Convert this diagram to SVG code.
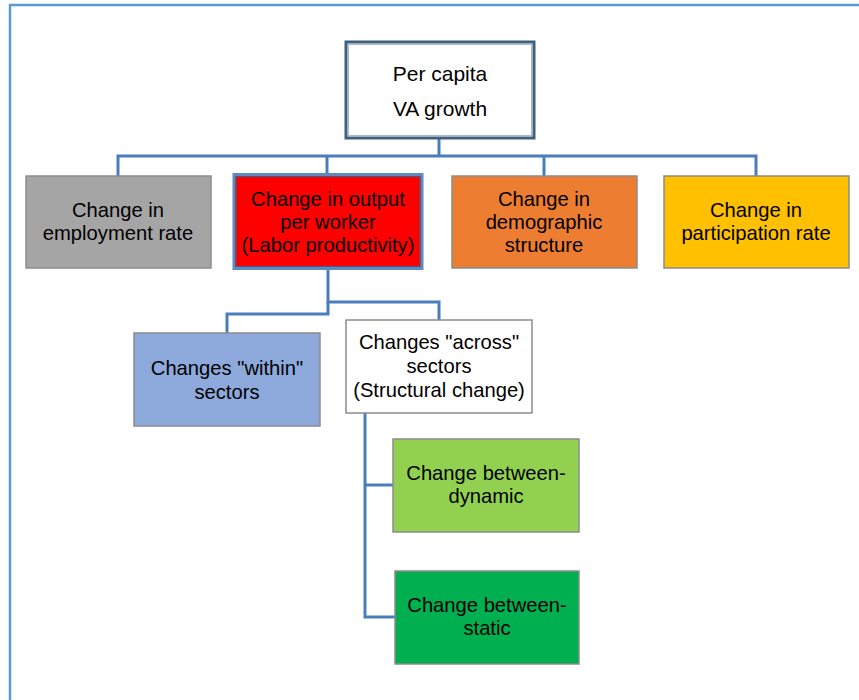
<svg xmlns="http://www.w3.org/2000/svg" width="859" height="700" viewBox="0 0 859 700">
<style>
  .t { font-family: "Liberation Sans", Arial, sans-serif; font-size: 20.2px; fill: #000; text-anchor: middle; dominant-baseline: central; }
  .big { font-size: 21px; }
  .box { stroke: #8c8c8c; stroke-width: 1.5; }
  .conn { fill: none; stroke: #4A7EBB; stroke-width: 3; }
</style>
<rect x="0" y="0" width="859" height="700" fill="#ffffff"/>
<path d="M10,700 V5 H859" fill="none" stroke="#5B9BD5" stroke-width="2.5"/>

<g id="connectors">
  <path class="conn" d="M439,138 V156"/>
  <path class="conn" d="M118,176 V156 H756 V176"/>
  <path class="conn" d="M327,156 V174"/>
  <path class="conn" d="M544,156 V176"/>
  <path class="conn" d="M328,269 V302 H439 V320"/>
  <path class="conn" d="M328,302 V314 H227 V333"/>
  <path class="conn" d="M365,413 V617 H395"/>
  <path class="conn" d="M365,485 H393"/>
</g>

<g id="node-top">
  <rect x="346" y="42" width="188" height="96" fill="#ffffff" stroke="#41607F" stroke-width="3"/>
  <rect x="348.5" y="44.5" width="183" height="91" fill="none" stroke="#A9B7C6" stroke-width="1"/>
  <text class="t big" x="440" y="73">Per capita</text>
  <text class="t big" x="440" y="108">VA growth</text>
</g>

<g id="node-employment">
  <rect class="box" x="26" y="176" width="185" height="92" fill="#A5A5A5"/>
  <text class="t" x="118" y="210">Change in</text>
  <text class="t" x="118" y="233">employment rate</text>
</g>

<g id="node-output">
  <rect x="234" y="174.5" width="188" height="94" fill="#FF0000" stroke="#5E8AC0" stroke-width="3"/>
  <rect x="236" y="176.5" width="184" height="90" fill="none" stroke="#3A5F8C" stroke-width="1"/>
  <text class="t" x="328" y="199">Change in output</text>
  <text class="t" x="328" y="222">per worker</text>
  <text class="t" x="328" y="245">(Labor productivity)</text>
</g>

<g id="node-demographic">
  <rect class="box" x="452" y="176" width="185" height="92" fill="#ED7D31"/>
  <text class="t" x="544" y="199">Change in</text>
  <text class="t" x="544" y="222">demographic</text>
  <text class="t" x="544" y="245">structure</text>
</g>

<g id="node-participation">
  <rect class="box" x="664" y="176" width="185" height="92" fill="#FFC000"/>
  <text class="t" x="756" y="210">Change in</text>
  <text class="t" x="756" y="233">participation rate</text>
</g>

<g id="node-within">
  <rect class="box" x="134" y="333" width="186" height="93" fill="#8EA9DB"/>
  <text class="t" x="227" y="368">Changes "within"</text>
  <text class="t" x="227" y="392">sectors</text>
</g>

<g id="node-across">
  <rect class="box" x="346" y="320" width="186" height="93" fill="#ffffff"/>
  <text class="t" x="439" y="342">Changes "across"</text>
  <text class="t" x="439" y="366">sectors</text>
  <text class="t" x="439" y="390">(Structural change)</text>
</g>

<g id="node-dynamic">
  <rect class="box" x="393" y="439" width="186" height="93" fill="#92D050"/>
  <text class="t" x="486" y="473">Change between-</text>
  <text class="t" x="486" y="496">dynamic</text>
</g>

<g id="node-static">
  <rect class="box" x="395" y="571" width="184" height="93" fill="#00B050"/>
  <text class="t" x="487" y="605">Change between-</text>
  <text class="t" x="487" y="628">static</text>
</g>
</svg>
